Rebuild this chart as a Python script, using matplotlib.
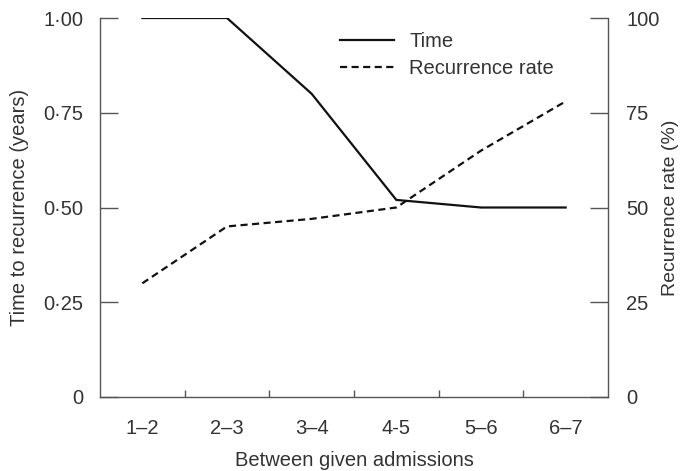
import matplotlib
matplotlib.use("Agg")
import matplotlib.pyplot as plt
from matplotlib.lines import Line2D

categories = ["1\u20132", "2\u20133", "3\u20134", "4-5", "5\u20136", "6\u20137"]
time_years = [1.00, 1.00, 0.80, 0.52, 0.50, 0.50]
recurrence_pct = [30, 45, 47, 50, 65, 78]
left_ticks = [0, 0.25, 0.50, 0.75, 1.00]
left_labels = ["0", "0\u00b725", "0\u00b750", "0\u00b775", "1\u00b700"]
right_ticks = [0, 25, 50, 75, 100]
right_labels = ["0", "25", "50", "75", "100"]

plt.rcParams['font.family'] = ['Liberation Sans', 'DejaVu Sans']
txt = "#333333"
spc = "#555555"
fs = 14.5
dash = (3.2, 2.0)

fig = plt.figure(figsize=(6.84, 4.71), dpi=100)
ax = fig.add_axes([100/684, 74/471, 508/684, 379/471])
ax2 = ax.twinx()

x = list(range(len(categories)))
ax.plot(x, time_years, color="#111111", lw=1.6, solid_joinstyle="miter")
ax2.plot(x, recurrence_pct, color="#111111", lw=1.6, dashes=dash)

ax.set_xlim(-0.5, len(categories) - 0.5)
ax.set_ylim(0, 1.0)
ax2.set_ylim(0, 100)

for a in (ax, ax2):
    a.spines['top'].set_visible(False)
    for s in a.spines.values():
        s.set_color(spc)
        s.set_linewidth(1.0)
ax.spines['right'].set_visible(False)
ax2.spines['left'].set_visible(False)
ax2.spines['bottom'].set_visible(False)

ax.set_yticks(left_ticks)
ax.set_yticklabels(left_labels)
ax.tick_params(axis='y', direction='in', length=13, width=1.0, color=spc,
               labelsize=fs, labelcolor=txt, pad=12)
ax2.set_yticks(right_ticks)
ax2.set_yticklabels(right_labels)
ax2.tick_params(axis='y', direction='in', length=13, width=1.0, color=spc,
                labelsize=fs, labelcolor=txt, pad=13)

# category boundary ticks (inward) and category labels (no tick marks)
ax.set_xticks([i + 0.5 for i in x[:-1]])
ax.set_xticklabels([])
ax.tick_params(axis='x', which='major', direction='in', length=5, width=1.0, color=spc)
ax.set_xticks(x, minor=True)
ax.set_xticklabels(categories, minor=True)
ax.tick_params(axis='x', which='minor', length=0, labelsize=fs, labelcolor=txt, pad=16)

ax.set_xlabel("Between given admissions", fontsize=fs, color=txt, labelpad=9)
ax.set_ylabel("Time to recurrence (years)", fontsize=fs, color=txt, labelpad=10)
ax2.set_ylabel("Recurrence rate (%)", fontsize=14, color=txt, labelpad=2)

handles = [Line2D([], [], color="#111111", lw=1.6),
           Line2D([], [], color="#111111", lw=1.6, dashes=dash)]
leg = ax.legend(handles, ["Time", "Recurrence rate"], loc="upper left",
                bbox_to_anchor=(0.472, 0.962), frameon=False, fontsize=fs,
                handlelength=2.7, handletextpad=0.75, labelspacing=0.4,
                borderpad=0, borderaxespad=0)
for t in leg.get_texts():
    t.set_color(txt)

fig.savefig("out.png", dpi=100)
